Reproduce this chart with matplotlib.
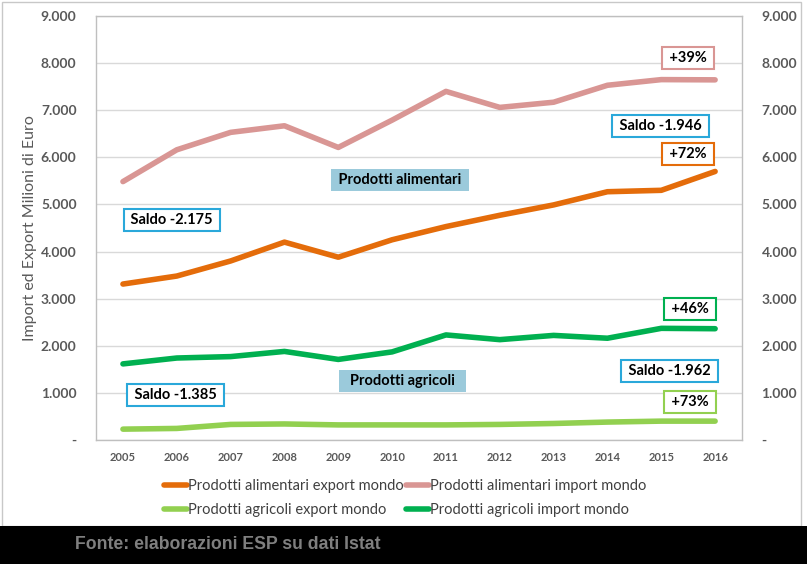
import matplotlib
matplotlib.use("Agg")
import matplotlib.pyplot as plt
from matplotlib.patches import Rectangle

years = ["2005", "2006", "2007", "2008", "2009", "2010", "2011", "2012", "2013", "2014", "2015", "2016"]
alim_export = [3310, 3480, 3800, 4200, 3880, 4250, 4530, 4770, 4990, 5270, 5300, 5700]
alim_import = [5485, 6160, 6530, 6670, 6210, 6790, 7400, 7060, 7170, 7530, 7650, 7645]
agri_export = [230, 245, 330, 340, 320, 320, 320, 330, 350, 380, 400, 400]
agri_import = [1615, 1740, 1770, 1880, 1710, 1870, 2230, 2130, 2220, 2160, 2370, 2362]
yticks = [0, 1000, 2000, 3000, 4000, 5000, 6000, 7000, 8000, 9000]
ytick_labels = ["-", "1.000", "2.000", "3.000", "4.000", "5.000", "6.000", "7.000", "8.000", "9.000"]

C_ORANGE = "#E46C0A"
C_PINK = "#D99694"
C_LGREEN = "#92D050"
C_DGREEN = "#00B050"
C_SALDO = "#2AA8DA"
C_FILL = "#9BCADB"
C_TICK = "#595959"

plt.rcParams['font.family'] = ['Lato', 'DejaVu Sans']

fig = plt.figure(figsize=(8.07, 5.64), dpi=100)
fig.patch.set_facecolor("white")

# outer chart border and bottom black band
fig.patches.append(Rectangle((0.002, 0.067), 0.991, 0.930, transform=fig.transFigure,
                             facecolor="white", edgecolor="#C8C8C8", linewidth=1.0, zorder=-10))
fig.patches.append(Rectangle((0, 0), 1, 0.067, transform=fig.transFigure,
                             facecolor="black", edgecolor="none", zorder=-9))
fig.text(0.093, 0.034, "Fonte: elaborazioni ESP su dati Istat", color="#7F7F7F",
         fontsize=12.7, fontweight="bold", family="Liberation Sans", va="center", ha="left")

ax = fig.add_axes([0.119, 0.2199, 0.8005, 0.7517])
ax.patch.set_alpha(0)
x = list(range(len(years)))
lw = 4.0
ax.plot(x, alim_export, color=C_ORANGE, lw=lw, solid_capstyle="round", label="Prodotti alimentari export mondo", zorder=3)
ax.plot(x, alim_import, color=C_PINK, lw=lw, solid_capstyle="round", label="Prodotti alimentari import mondo", zorder=3)
ax.plot(x, agri_export, color=C_LGREEN, lw=lw, solid_capstyle="round", label="Prodotti agricoli export mondo", zorder=3)
ax.plot(x, agri_import, color=C_DGREEN, lw=lw, solid_capstyle="round", label="Prodotti agricoli import mondo", zorder=3)

ax.set_xlim(-0.5, len(years) - 0.5)
ax.set_ylim(0, 9000)
ax.set_xticks(x)
ax.set_xticklabels(years, fontsize=8, color=C_TICK, fontweight="bold")
ax.set_yticks(yticks)
ax.set_yticklabels(ytick_labels, fontsize=10, color=C_TICK, fontweight="bold")
ax.tick_params(axis="y", length=0, pad=14)
ax.tick_params(axis="x", length=0, pad=9)
ax.grid(axis="y", color="#D9D9D9", lw=1.0, zorder=0)
for s in ax.spines.values():
    s.set_color("#BFBFBF")
    s.set_linewidth(1.0)

ax2 = ax.twinx()
ax2.set_ylim(0, 9000)
ax2.set_yticks(yticks)
ax2.set_yticklabels(ytick_labels, fontsize=10, color=C_TICK, fontweight="bold")
ax2.tick_params(axis="y", length=0, pad=14)
for s in ax2.spines.values():
    s.set_visible(False)

ax.set_ylabel("Import ed Export Milioni di Euro", fontsize=11.5, color=C_TICK, labelpad=3)

def box(xd, yd, txt, edge, fill="white", lwid=1.5):
    ax.text(xd, yd, txt, ha="center", va="center", fontsize=10.5, fontweight="bold", color="black", zorder=5,
            bbox=dict(boxstyle="square,pad=0.27", facecolor=fill, edgecolor=edge, linewidth=lwid))

box(0.91, 4670, " Saldo -2.175 ", C_SALDO)
box(9.98, 6667, " Saldo -1.946 ", C_SALDO)
box(10.15, 1465, " Saldo -1.962 ", C_SALDO)
box(0.98, 955, " Saldo -1.385 ", C_SALDO)
box(10.5, 8110, " +39% ", C_PINK)
box(10.5, 6072, " +72% ", C_ORANGE)
box(10.54, 2781, " +46% ", C_DGREEN)
box(10.54, 807, " +73% ", C_LGREEN)
box(5.15, 5520, " Prodotti alimentari ", "none", fill=C_FILL, lwid=0)
box(5.19, 1253, "  Prodotti agricoli  ", "none", fill=C_FILL, lwid=0)

h = ax.get_lines()
order = [0, 2, 1, 3]
fig.legend([h[i] for i in order], [h[i].get_label() for i in order], loc="center",
           bbox_to_anchor=(0.502, 0.117), ncol=2, frameon=False, fontsize=10.5,
           handlelength=1.6, handletextpad=0.05, columnspacing=0.15, labelspacing=0.7,
           labelcolor="#404040")

fig.savefig("out.png", dpi=100)
